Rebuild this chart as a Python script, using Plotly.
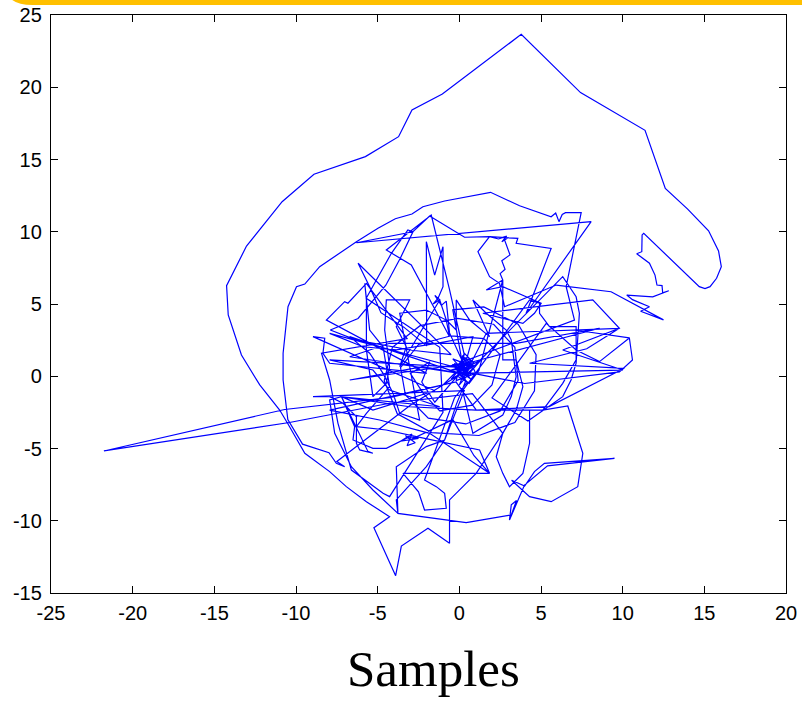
import plotly.graph_objects as go

# ---- data (x, y), grouped by region of the trajectory ----
core_a = [(0.0, 0.4), (0.3, 0.9), (-0.2, 0.6), (0.5, 0.2), (0.1, 1.1), (0.6, 0.7), (-0.1, 0.2),
          (0.4, 1.3), (0.8, 0.5), (0.2, -0.1), (-0.4, 0.8), (0.9, 1.0), (0.3, 0.0)]

east = [(1.65, 2.97), (9.8, 3.32), (7.8, 1.9), (4.3, 0.9), (10.1, 0.55), (5.5, -2.1), (1.04, -2.34),
        (5.11, -2.34), (6.64, -2.06), (7.56, -5.33), (7.25, -7.64), (5.62, -8.68), (4.3, -8.33),
        (3.2, -7.2), (4.0, -7.6), (4.6, -6.6), (5.21, -6.03), (9.5, -5.68), (5.4, -6.2), (3.99, -7.53),
        (3.07, -9.95), (3.18, -8.9), (3.5, -8.6), (3.18, -9.6), (0.42, -10.13), (-3.76, -9.49),
        (-3.86, -6.26), (-2.02, -4.87), (-0.9, -4.41), (-0.2, -2.0), (0.4, -0.3)]

core_b = [(-0.3, 0.9), (0.7, 0.1), (0.1, 0.6), (-0.5, -0.2), (0.9, 0.7), (0.2, 1.4), (-0.1, 0.0),
          (0.6, -0.5), (1.2, 0.4)]

outer = [(2.66, 6.66), (2.5, 7.1), (2.8, 7.4), (2.6, 8.0), (3.1, 8.4), (2.77, 9.43), (3.0, 9.6),
         (2.6, 9.3), (2.9, 9.7), (2.4, 9.5), (1.85, 9.66), (3.58, 9.54), (3.48, 9.2), (5.62, 8.85),
         (4.09, 4.36), (8.07, 10.7), (-6.3, 9.24), (-2.84, 10.0), (-1.82, 11.09), (0.32, 9.62),
         (1.85, 9.66), (1.14, 8.62), (1.85, 6.89), (2.46, 6.43), (2.77, 4.81), (5.93, 6.31),
         (9.29, 5.85), (12.5, 3.9), (11.1, 4.5), (11.64, 4.81), (10.6, 5.3), (10.25, 5.62),
         (11.84, 5.49), (12.82, 5.92), (12.45, 5.78), (12.41, 6.27), (12.1, 6.31), (11.98, 7.0),
         (11.64, 7.82), (10.86, 8.48), (11.17, 8.62), (11.19, 9.78), (11.29, 9.89), (14.69, 6.2),
         (15.04, 6.06), (15.35, 6.2), (15.75, 6.78), (16.04, 7.58), (15.87, 8.67), (15.26, 10.07),
         (13.98, 11.57), (12.61, 13.0), (11.37, 17.02), (7.42, 19.63), (3.79, 23.66), (-1.04, 19.53),
         (-2.90, 18.43), (-3.72, 16.58), (-5.75, 15.2), (-8.9, 13.98), (-10.85, 12.08), (-13.03, 9.01),
         (-14.25, 6.27), (-14.15, 4.24), (-13.34, 1.47), (-12.22, -0.6), (-11.0, -2.34), (-10.49, -3.3),
         (-9.46, -5.33), (-7.94, -6.6), (-6.92, -7.64), (-5.69, -8.68), (-4.27, -9.72), (-5.23, -10.48),
         (-3.9, -13.8), (-3.55, -11.75), (-1.92, -10.52), (-0.6, -11.56), (-0.6, -8.56), (1.03, -6.72),
         (2.66, -3.95), (0.8, -1.2)]

spike = [(-4.27, -1.87), (-10.4, -3.2), (-21.76, -5.17), (-10.7, -2.3), (-4.27, -1.48), (-1.0, -0.6),
         (-0.2, 0.3), (0.5, -0.4)]

southwest = [(-0.3, -1.5), (-2.13, -7.18), (-1.41, -7.64), (-0.9, -8.1), (-0.8, -9.14), (-2.13, -9.26),
             (-2.5, -8.0), (-3.45, -6.72), (1.85, -6.72), (0.9, -5.5), (-0.4, -3.0), (-3.0, -4.4),
             (-3.3, -4.1), (-2.7, -4.6), (-3.2, -4.8), (-2.9, -4.0), (-3.6, -4.5), (-2.5, -4.3),
             (-3.04, -4.18), (-4.47, -4.99), (-5.29, -4.99), (-6.51, -4.41), (-6.41, -3.49), (-7.22, -1.41),
             (-7.94, -1.64), (-7.63, -3.95), (-6.61, -6.26), (-5.29, -7.87), (-3.76, -9.49), (-3.86, -8.56),
             (-2.02, -6.26), (-0.9, -4.41), (0.3, -1.0)]

west = [(-8.96, -1.41), (-7.94, -1.41), (-7.12, -1.87), (-6.3, -2.8), (-6.3, -4.64), (-6.1, -5.1),
        (-5.29, -5.33), (-5.6, -5.2), (-7.22, -1.41), (-5.29, -2.34), (-1.5, -1.0), (-8.96, 2.74),
        (-8.24, 2.63), (-8.35, 1.59), (-7.94, 0.9), (-2.0, 0.2), (-8.14, 3.89), (-7.02, 5.16),
        (-6.82, 5.05), (-5.69, 6.43), (-3.2, 2.6), (-8.44, 1.59), (-7.94, -0.26), (-7.43, -3.26),
        (-6.61, -6.49), (-4.67, -8.1), (-4.27, -8.33), (-1.0, -2.5)]

northwest = [(-1.2, 2.0), (-5.7, 5.4), (-5.08, 6.66), (-4.16, 8.51), (-3.15, 10.12), (-2.84, 10.0),
             (-3.6, 8.2), (-4.5, 6.3), (-6.2, 4.0), (-7.9, 3.2), (-6.3, 2.5), (-2.9, 1.8), (-0.5, 1.5),
             (-6.2, 7.82), (-5.49, 6.2), (-4.8, 4.4), (-3.4, 3.4), (-2.0, 2.1), (-2.02, 9.31), (-1.51, 7.0),
             (-1.0, 8.97), (-1.0, 6.2), (-1.3, 5.4), (-1.6, 5.0), (-1.2, 5.3), (-1.5, 5.6), (-1.1, 4.9),
             (-0.8, 5.2), (-0.6, 3.0), (0.2, 1.0)]

ring = [(7.05, 3.89), (6.54, 6.2), (7.46, 11.32), (6.5, 11.32), (6.3, 11.2), (6.1, 10.7), (5.9, 11.3),
        (5.62, 11.04), (3.69, 11.8), (1.91, 12.73), (-0.9, 12.13), (-2.23, 11.73), (-2.9, 11.23),
        (-3.92, 10.9), (-4.98, 10.24), (-6.3, 9.31), (-8.55, 7.58), (-9.46, 6.38), (-9.97, 6.2),
        (-10.49, 4.81), (-10.79, 1.59), (-10.79, -0.26), (-10.5, -3.0), (-9.6, -4.7), (-7.98, -5.29),
        (-7.53, -6.03), (-7.02, -6.26), (-7.5, -5.9)]

ring_east = [(-3.0, -2.0), (1.0, 0.8), (6.33, 6.89), (7.15, 5.5), (7.35, 4.36), (7.25, 2.51), (7.15, 0.9),
             (6.84, -0.26), (6.33, -1.41), (4.2, -3.1), (2.0, -1.5), (5.32, 3.66), (7.15, 1.82), (8.58, 1.01),
             (10.41, 2.65), (7.05, 3.2), (10.41, 2.65), (10.6, 1.13), (9.8, 0.3), (4.0, -0.5), (0.4, 0.3)]

core_c = [(-0.3, 0.7), (0.6, 1.2), (1.0, 0.2), (-0.2, -0.3), (0.3, 1.6), (0.9, 0.9), (-0.6, 0.4),
          (0.2, 0.5), (1.3, 1.1), (0.0, -0.6), (0.5, 0.8), (-0.4, 1.2), (0.7, -0.2), (0.1, 0.3),
          (-1.5, -1.8), (-2.3, -0.4), (-1.8, 1.0), (-3.0, 0.2), (-2.2, -1.2), (-1.2, -2.4), (0.8, -2.0),
          (2.0, -0.6), (2.5, 1.5), (1.5, 2.6), (-0.5, 2.8), (-2.5, 2.2), (-3.6, 0.6), (-3.3, -1.3),
          (-1.9, -2.9), (0.4, -3.3), (2.5, -2.4), (3.6, -0.3), (3.4, 2.0), (2.1, 3.6), (-0.1, 4.0),
          (-2.4, 3.5), (-4.1, 2.0), (-4.6, -0.3), (-3.8, -2.6), (-1.7, -3.9), (1.2, -4.1), (3.4, -3.2),
          (4.6, -1.0), (4.7, 1.5), (3.6, 3.6), (1.5, 4.8), (-0.4, 4.6), (0.2, 0.8), (0.5, 0.4)]

mesh_a = [(-7.94, 2.97), (-5.9, 2.04), (-3.86, 1.82), (-1.41, 2.28), (0.83, 2.74), (0.3, 0.6),
          (-7.94, 1.13), (-5.29, 0.43), (-4.27, -0.95), (-2.43, -1.64), (-1.2, -2.11), (-7.32, -1.41),
          (-3.04, -2.11), (1.04, -2.34), (-0.2, -0.4)]

mesh_b = [(-7.94, -2.34), (-4.88, -3.03), (-1.82, -3.95), (1.85, -6.72), (1.24, -5.1), (-0.8, -4.64),
          (-2.63, -4.18), (-4.47, -3.72), (-6.3, -3.49), (-5.69, -2.57), (-4.27, -0.72), (-4.67, 2.04),
          (-5.49, 3.2), (-5.79, 6.43)]

mesh_c = [(-5.69, 5.28), (-5.69, 1.82), (-5.29, -1.41), (-4.47, -0.49), (-4.27, 0.66), (-4.57, 3.2),
          (-4.47, 5.28), (-3.04, 5.28), (-3.86, 3.43), (-3.25, 2.04), (-3.65, 0.66), (-1.2, 5.28),
          (-0.8, 3.89), (-0.19, 3.2), (-0.19, 5.28), (0.63, 3.89), (1.85, 2.74), (0.83, 5.28),
          (1.65, 4.36), (2.87, 3.2), (3.18, 2.51), (3.48, -0.03), (3.18, -1.41), (2.66, -2.68),
          (0.83, -3.95), (0.2, -1.0)]

mesh_d = [(4.3, 5.28), (4.91, 5.05), (4.91, 4.36), (5.52, 3.43), (7.15, 3.43), (7.15, 1.13), (6.33, -0.49),
          (5.11, -2.34), (4.3, -2.34), (4.3, -4.64), (3.89, -6.72), (3.07, -7.64), (2.66, -6.72),
          (2.26, -5.57), (2.66, -3.95), (3.48, -2.34), (3.89, -0.72), (3.48, 1.13), (2.66, 1.13),
          (2.66, 6.66), (1.65, 5.97), (2.66, 6.2), (5.01, 5.05), (4.6, 4.36), (3.89, 3.66), (1.44, 4.36),
          (8.17, 5.28), (9.8, 3.32), (6.33, 1.82), (10.0, 0.43), (0.02, 0.2)]

mesh_e = [(-6.71, 1.35), (-4.27, 2.28), (-0.6, 2.28), (3.48, 2.28), (8.58, 3.32), (0.5, 0.9),
          (-6.71, -0.26), (-2.23, 0.66), (0.02, 0.2), (-6.71, 2.74), (-5.49, 1.59), (-4.67, 0.2),
          (-4.06, -1.18), (-3.65, -2.57), (-2.43, -3.03), (-3.65, 4.36), (-2.02, 4.58), (-0.8, 3.89),
          (-0.6, 2.74), (-2.94, 7.7), (-4.47, 8.74), (-1.72, 11.16), (-0.6, 6.0), (0.3, 1.5)]

core_d = [(0.1, 0.7), (0.5, 1.0), (-0.1, 0.3), (0.7, 0.6), (0.3, 1.2), (0.0, 0.9), (0.6, 0.1),
          (0.2, 0.4), (-0.3, 0.5), (0.4, 0.8), (0.8, 1.1), (0.1, 0.0), (0.5, 0.5)]

segments = [core_a, east, core_b, outer, spike, southwest, west, northwest, ring, ring_east, core_c,
            mesh_a, mesh_b, mesh_c, mesh_d, mesh_e, core_d]
xs = [p[0] for seg in segments for p in seg]
ys = [p[1] for seg in segments for p in seg]

x_ticks = [-25, -20, -15, -10, -5, 0, 5, 10, 15, 20]
y_ticks = [-15, -10, -5, 0, 5, 10, 15, 20, 25]

fig = go.Figure()
fig.add_trace(go.Scatter(x=xs, y=ys, mode="lines",
                         line=dict(color="#0000FF", width=1.2), hoverinfo="skip"))

axis_common = dict(showline=True, linecolor="black", linewidth=1.3, mirror="ticks",
                   ticks="inside", ticklen=7, tickwidth=1, tickcolor="black",
                   showgrid=False, zeroline=False, automargin=False,
                   tickfont=dict(family="Liberation Sans, Arial", size=20, color="black"))

fig.update_xaxes(range=[-25, 20], tickvals=x_ticks, ticktext=[str(v) for v in x_ticks],
                 ticklabelstandoff=2, **axis_common)
fig.update_yaxes(range=[-15, 25], tickvals=y_ticks, ticktext=[str(v) for v in y_ticks],
                 ticklabelstandoff=4, **axis_common)

fig.update_layout(
    width=802, height=702,
    margin=dict(l=51, r=16, t=15, b=109),
    paper_bgcolor="white", plot_bgcolor="white",
    showlegend=False,
    annotations=[dict(text="Samples", x=0.521, y=-0.131, xref="paper", yref="paper",
                      xanchor="center", yanchor="middle", showarrow=False,
                      font=dict(family="Liberation Serif, Times New Roman", size=51, color="black"))],
    shapes=[dict(type="path", xref="paper", yref="paper",
                 path="M -0.056,1.03 L 1.03,1.03 L 1.03,1.0173 L -0.025,1.0173 Q -0.048,1.0173 -0.056,1.03 Z",
                 fillcolor="#FFC000", line=dict(width=0))],
)

fig.write_html("out.html")
